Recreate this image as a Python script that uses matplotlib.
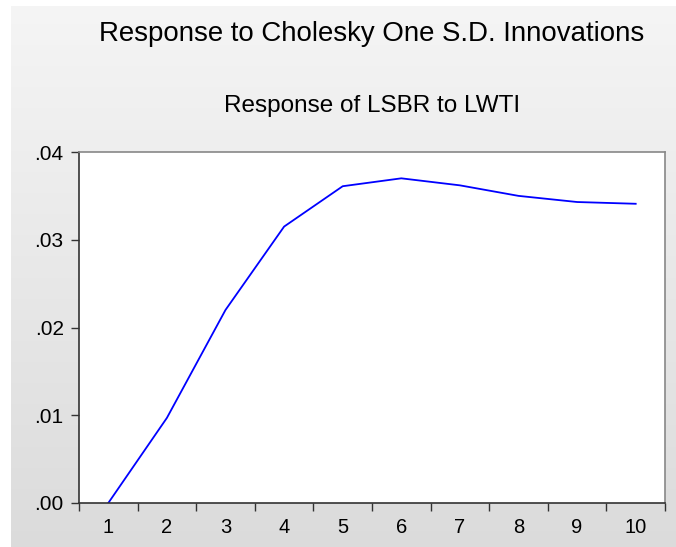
import numpy as np
import matplotlib
matplotlib.use("Agg")
import matplotlib.pyplot as plt

plt.rcParams['font.family'] = ['Liberation Sans', 'DejaVu Sans']

periods = [1, 2, 3, 4, 5, 6, 7, 8, 9, 10]
response = [0.0, 0.0097, 0.0220, 0.0315, 0.0361, 0.0370, 0.0362, 0.0350, 0.0343, 0.0341]
ytick_vals = [0.00, 0.01, 0.02, 0.03, 0.04]
ytick_labels = ['.00', '.01', '.02', '.03', '.04']
main_title = "Response to Cholesky One S.D. Innovations"
sub_title = "Response of LSBR to LWTI"

W, H = 676, 547
fig = plt.figure(figsize=(W / 100, H / 100), dpi=100)
fig.patch.set_facecolor('white')

# gradient background
bg = fig.add_axes([11 / W, 0, 1 - 11 / W, 1 - 6 / H])
grad = np.linspace(0.96, 0.86, 256).reshape(-1, 1)
bg.imshow(np.repeat(grad[:, :, None], 3, axis=2), aspect='auto', extent=[0, 1, 0, 1])
bg.axis('off')

left, right, top, bottom = 79, 665, 152, 503
ax = fig.add_axes([left / W, 1 - bottom / H, (right - left) / W, (bottom - top) / H])
ax.set_facecolor('white')
ax.plot(periods, response, color='#0000ff', lw=1.3)
ax.set_xlim(0.5, 10.5)
ax.set_ylim(0, 0.04)
ax.set_xticks(np.arange(0.5, 11, 1))
ax.set_xticklabels([])
ax.set_xticks(periods, minor=True)
ax.set_xticklabels([str(p) for p in periods], minor=True)
ax.tick_params(axis='x', which='minor', length=0, pad=11, labelsize=14.5)
ax.tick_params(axis='x', which='major', length=6, width=1, color='#333333', direction='out')
ax.set_yticks(ytick_vals)
ax.set_yticklabels(ytick_labels)
ax.tick_params(axis='y', length=6, width=1, color='#333333', direction='out', labelsize=15, pad=5)
for s in ['left', 'bottom']:
    ax.spines[s].set_color('#333333')
for s in ['top', 'right']:
    ax.spines[s].set_color('#888888')
for s in ax.spines.values():
    s.set_linewidth(1.2)

fig.text(372 / W, 1 - 34 / H, main_title, ha='center', va='center', fontsize=19.9)
fig.text(372 / W, 1 - 106 / H, sub_title, ha='center', va='center', fontsize=17.5)

fig.savefig('out.png', dpi=100)
